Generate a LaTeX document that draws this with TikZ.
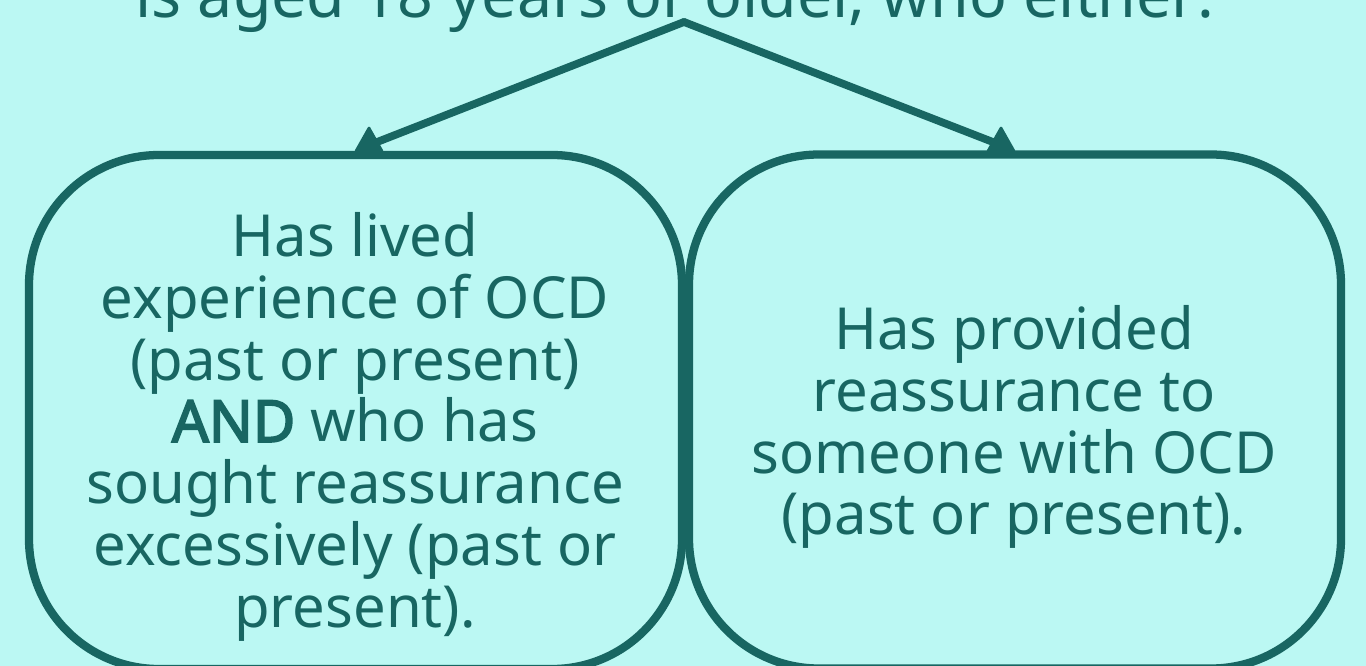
\documentclass[tikz,border=0pt]{standalone}
\usepackage{fontspec}
\setmainfont{Noto Sans}
\newfontfamily\boldfam{Noto Sans}[FakeBold=3]
\definecolor{bgcol}{RGB}{187,248,243}
\definecolor{teal}{RGB}{24,102,98}
\tikzset{
  x=0.75pt, y=-0.75pt,
  box/.style={draw=teal, line width=6.2pt, rounded corners=97.5pt, inner sep=0pt, minimum height=385.5pt},
  txt/.style={text=teal, align=center, inner sep=0pt, font=\fontsize{43.5}{46.4}\selectfont},
  conn/.style={draw=teal, line width=5.8pt, line cap=round},
  tiphead/.style={fill=teal, draw=teal, line width=2pt, line join=round},
}
\begin{document}
\begin{tikzpicture}
\useasboundingbox (0,0) rectangle (1366,666);
\clip (0,0) rectangle (1366,666);
\fill[bgcol] (0,0) rectangle (1366,666);
% top text (cut off by the top edge)
\node[txt, anchor=base, font=\fontsize{47}{50}\selectfont] (top) at (675,18) {is aged 18 years or older, who either:};
% connector points
\coordinate (apex) at (684,22);
\coordinate (endL) at (372,144);
\coordinate (endR) at (998,144);
\draw[conn] (apex) -- (endL);
\draw[conn] (apex) -- (endR);
% arrowheads
\coordinate (tipL) at (369,128);
\coordinate (blL) at (356,151);
\coordinate (brL) at (382,151);
\coordinate (tipR) at (1001,128);
\coordinate (blR) at (988,151);
\coordinate (brR) at (1014,151);
\path[tiphead] (tipL) -- (blL) -- (brL) -- cycle;
\path[tiphead] (tipR) -- (blR) -- (brR) -- cycle;
% boxes
\node[box, minimum width=489.75pt] (boxL) at (355.5,412) {};
\node[box, minimum width=489pt] (boxR) at (1015,411.5) {};
% texts
\node[txt, anchor=north] (txtL) at (355,212) {Has lived\\experience of OCD\\(past or present)\\{\boldfam AND} who has\\sought reassurance\\excessively (past or\\present).};
\node[txt, anchor=north] (txtR) at (1014,305) {Has provided\\reassurance to\\someone with OCD\\(past or present).};
\end{tikzpicture}
\end{document}
